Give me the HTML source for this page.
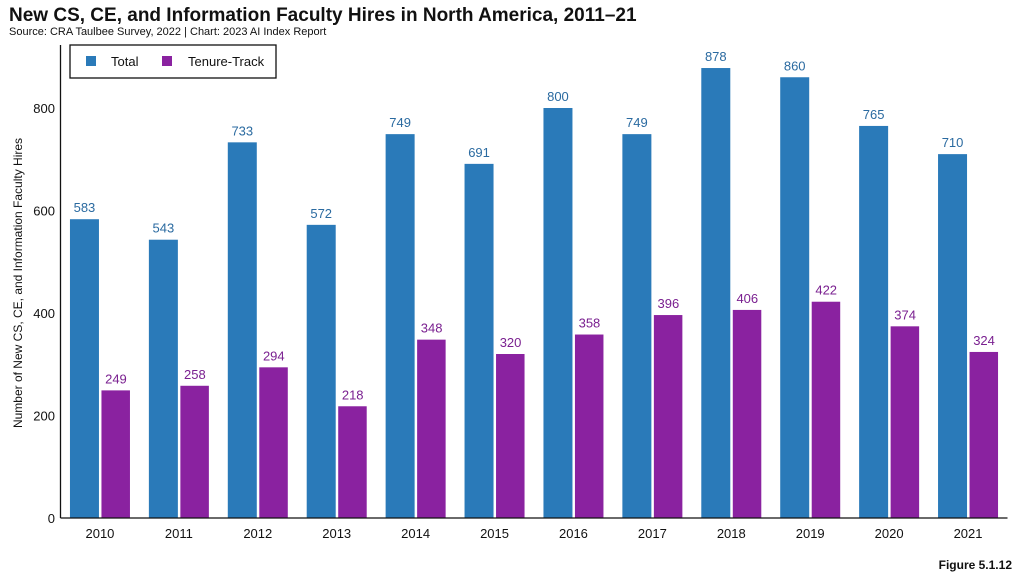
<!DOCTYPE html>
<html><head><meta charset="utf-8"><style>
body{margin:0;background:#fff;font-family:"Liberation Sans",sans-serif;}
svg text{font-family:"Liberation Sans",sans-serif;}
</style></head><body>
<svg width="1027" height="578" viewBox="0 0 1027 578" xmlns="http://www.w3.org/2000/svg">
<text x="9" y="21" font-size="19" font-weight="bold" fill="#111">New CS, CE, and Information Faculty Hires in North America, 2011–21</text>
<text x="9" y="35" font-size="11" fill="#111">Source: CRA Taulbee Survey, 2022 | Chart: 2023 AI Index Report</text>
<text x="1012" y="569" font-size="12" font-weight="bold" fill="#111" text-anchor="end">Figure 5.1.12</text>
<text transform="translate(22,283) rotate(-90)" font-size="12" fill="#111" text-anchor="middle">Number of New CS, CE, and Information Faculty Hires</text>
<g id="plot"></g>
<g>
<rect x="70" y="45" width="206" height="33" fill="#fff" stroke="#111" stroke-width="1.3"/>
<rect x="86" y="56" width="10" height="10" fill="#2a7ab9"/>
<text x="111" y="66" font-size="13" fill="#111">Total</text>
<rect x="162" y="56" width="10" height="10" fill="#8a22a0"/>
<text x="188" y="66" font-size="13" fill="#111">Tenure-Track</text>
</g>
</svg>
<script>
const years=["2010","2011","2012","2013","2014","2015","2016","2017","2018","2019","2020","2021"];
const totalVals=[583,543,733,572,749,691,800,749,878,860,765,710];
const tenureVals=[249,258,294,218,348,320,358,396,406,422,374,324];
const yTicks=[0,200,400,600,800];
const NS="http://www.w3.org/2000/svg";
const g=document.getElementById('plot');
const x0=60.5,x1=1007.5,y0=518,yTop800=108;
const band=(x1-x0)/years.length;
function y(v){return y0-(y0-yTop800)*v/800;}
function xc(i){return x0+band*(i+0.5);}
function mk(tag,attrs,txt){const e=document.createElementNS(NS,tag);for(const k in attrs)e.setAttribute(k,attrs[k]);if(txt!==undefined)e.textContent=txt;g.appendChild(e);return e;}
yTicks.forEach(t=>{
 const e=mk('text',{x:55,y:y(t)+5,'font-size':13,fill:'#111','text-anchor':'end'},t);
 
 
});
years.forEach((yr,i)=>{
 const c=xc(i);
 const a=mk('rect',{x:c-30,y:y(totalVals[i]),width:29,height:y0-y(totalVals[i]),fill:'#2a7ab9'});
 
 
 const b=mk('rect',{x:c+1.5,y:y(tenureVals[i]),width:28.5,height:y0-y(tenureVals[i]),fill:'#8a22a0'});
 
 
 const la=mk('text',{x:c-15.5,y:y(totalVals[i])-7,'font-size':13,fill:'#2a6aa0','text-anchor':'middle'},totalVals[i]);
 
 
 const lb=mk('text',{x:c+16,y:y(tenureVals[i])-7,'font-size':13,fill:'#7a2090','text-anchor':'middle'},tenureVals[i]);
 
 
 const xl=mk('text',{x:c,y:538,'font-size':13,fill:'#111','text-anchor':'middle'},yr);
 
 
});
const ax=mk('line',{x1:x0,y1:45,x2:x0,y2:y0,stroke:'#111','stroke-width':1.3});


const bx=mk('line',{x1:x0,y1:y0,x2:x1,y2:y0,stroke:'#111','stroke-width':1.3});


</script>
</body></html>
